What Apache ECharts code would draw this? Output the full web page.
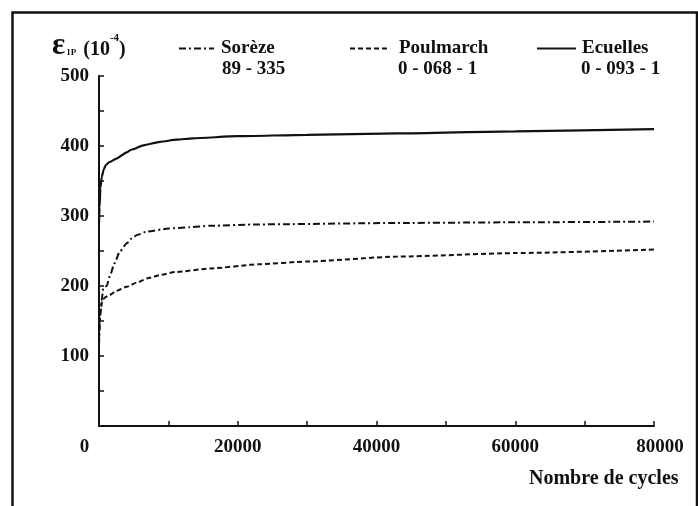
<!DOCTYPE html>
<html>
<head>
<meta charset="utf-8">
<script src="https://cdn.jsdelivr.net/npm/echarts@6/dist/echarts.min.js"></script>
<style>
html,body{margin:0;padding:0;background:#fff;}
#c{width:698px;height:506px;}
</style>
</head>
<body>
<div id="c"></div>
<script>
// ---- data ----
var seriesNames = ['Sorèze', 'Poulmarch', 'Ecuelles'];
var seriesCodes = ['89 - 335', '0 - 068 - 1', '0 - 093 - 1'];

var sorezeCycles = [0, 150, 400, 600, 1100, 1600, 2200, 3000, 4000, 4700, 5500, 7000, 10000, 13000, 16000, 23000, 43000, 60000, 80000];
var sorezeValues = [115, 156, 180, 197, 200, 215, 232, 249, 261, 268, 273, 278, 282, 284, 286, 288, 290, 291, 292];

var poulmarchCycles = [0, 200, 500, 900, 1500, 2500, 4000, 5500, 7000, 9000, 11000, 16000, 23000, 30000, 43000, 60000, 80000];
var poulmarchValues = [125, 165, 180, 184, 187, 193, 199, 205, 211, 216, 220, 225, 231, 235, 242, 247, 252];

var ecuellesCycles = [0, 80, 200, 400, 700, 1000, 1500, 2500, 4000, 4700, 6400, 8800, 11200, 13500, 20000, 30000, 43000, 60000, 80000];
var ecuellesValues = [290, 312, 340, 356, 367, 373, 377, 382, 391, 395, 401, 406, 409, 411, 414, 416, 418, 421, 424];

var yTicks = [0, 500, 50];      // min, max, tick step
var xTicks = [0, 80000, 10000]; // min, max, tick step

function pairs(xs, ys) { return xs.map(function (x, i) { return [x, ys[i]]; }); }

var FONT = '"Liberation Serif", "Times New Roman", serif';
var INK = '#111';

var chart = echarts.init(document.getElementById('c'), null, {renderer: 'canvas'});

var lineBase = {type: 'line', showSymbol: false, symbol: 'none', smooth: 0.2, smoothMonotone: 'x', animation: false};

function legendFor(name, left, w, padLeft) {
  return {
    data: [name], left: left, top: 39, padding: 0, itemWidth: w, itemHeight: 14, itemGap: 0,
    itemStyle: {color: 'rgba(0,0,0,0)', borderWidth: 0, opacity: 0},
    textStyle: {fontFamily: FONT, fontSize: 19, fontWeight: 'bold', color: INK, padding: [0, 0, 0, padLeft]}
  };
}

chart.setOption({
  backgroundColor: '#fff',
  animation: false,
  grid: {left: 99, right: 44, top: 76, bottom: 80},
  title: [{
    text: '{eps|ε}{sub|1P}{main| (10}{sup|-4}{main|)}',
    left: 52, top: 31,
    padding: 0,
    textStyle: {
      rich: {
        eps: {fontFamily: FONT, fontSize: 31, fontWeight: 'bold', color: INK, verticalAlign: 'bottom', lineHeight: 30},
        sub: {fontFamily: FONT, fontSize: 9, fontWeight: 'bold', color: INK, verticalAlign: 'bottom', padding: [0, 2, 4, 1]},
        main: {fontFamily: FONT, fontSize: 20, fontWeight: 'bold', color: INK, verticalAlign: 'bottom', padding: [0, 0, 1, 0]},
        sup: {fontFamily: FONT, fontSize: 11, fontWeight: 'bold', color: INK, verticalAlign: 'top', padding: [2, 0, 0, 0]}
      }
    }
  }, {
    text: 'Nombre de cycles',
    left: 524, top: 464,
    textStyle: {fontFamily: FONT, fontSize: 20, fontWeight: 'bold', color: INK}
  }],
  legend: [
    legendFor(seriesNames[0], 178, 35, 2),
    legendFor(seriesNames[1], 349, 38, 6),
    legendFor(seriesNames[2], 536, 39, 1)
  ],
  xAxis: {
    type: 'value', min: xTicks[0], max: xTicks[1], interval: xTicks[2],
    axisLine: {show: true, onZero: false, lineStyle: {color: INK, width: 2}},
    axisTick: {show: true, inside: true, length: 5, lineStyle: {color: INK, width: 1.5}},
    splitLine: {show: false},
    axisLabel: {
      margin: 12,
      formatter: function (v) {
        if (v === 0) return '{z|0}';
        if (v === 80000) return '{e|80000}';
        return (v % 20000 === 0) ? '{n|' + v + '}' : '';
      },
      rich: {
        n: {fontFamily: FONT, fontSize: 19, fontWeight: 'bold', color: INK},
        z: {fontFamily: FONT, fontSize: 19, fontWeight: 'bold', color: INK, padding: [0, 29, 12, 0]},
        e: {fontFamily: FONT, fontSize: 19, fontWeight: 'bold', color: INK, padding: [0, 0, 10, 12]}
      }
    }
  },
  yAxis: {
    type: 'value', min: yTicks[0], max: yTicks[1], interval: yTicks[2],
    axisLine: {show: true, lineStyle: {color: INK, width: 2}},
    axisTick: {show: true, inside: true, length: 5, lineStyle: {color: INK, width: 1.5}},
    splitLine: {show: false},
    axisLabel: {
      margin: 10,
      fontFamily: FONT, fontSize: 19, fontWeight: 'bold', color: INK,
      formatter: function (v) { return (v !== 0 && v % 100 === 0) ? String(v) : ''; }
    }
  },
  graphic: [
    {type: 'rect', shape: {x: 12.5, y: 12.5, width: 684.5, height: 520}, style: {fill: 'none', stroke: INK, lineWidth: 2.5}, silent: true},
    {type: 'text', left: 222, top: 60, style: {text: seriesCodes[0], font: 'bold 19px ' + FONT, fill: INK}},
    {type: 'text', left: 398, top: 60, style: {text: seriesCodes[1], font: 'bold 19px ' + FONT, fill: INK}},
    {type: 'text', left: 581, top: 60, style: {text: seriesCodes[2], font: 'bold 19px ' + FONT, fill: INK}}
  ],
  series: [
    Object.assign({}, lineBase, {
      name: seriesNames[0], data: pairs(sorezeCycles, sorezeValues),
      lineStyle: {color: INK, width: 2, type: [7, 3, 2, 3]}, itemStyle: {color: INK}
    }),
    Object.assign({}, lineBase, {
      name: seriesNames[1], data: pairs(poulmarchCycles, poulmarchValues),
      lineStyle: {color: INK, width: 2, type: [5, 3]}, itemStyle: {color: INK}
    }),
    Object.assign({}, lineBase, {
      name: seriesNames[2], data: pairs(ecuellesCycles, ecuellesValues),
      lineStyle: {color: INK, width: 2.2, type: 'solid'}, itemStyle: {color: INK}
    })
  ]
});
</script>
</body>
</html>
